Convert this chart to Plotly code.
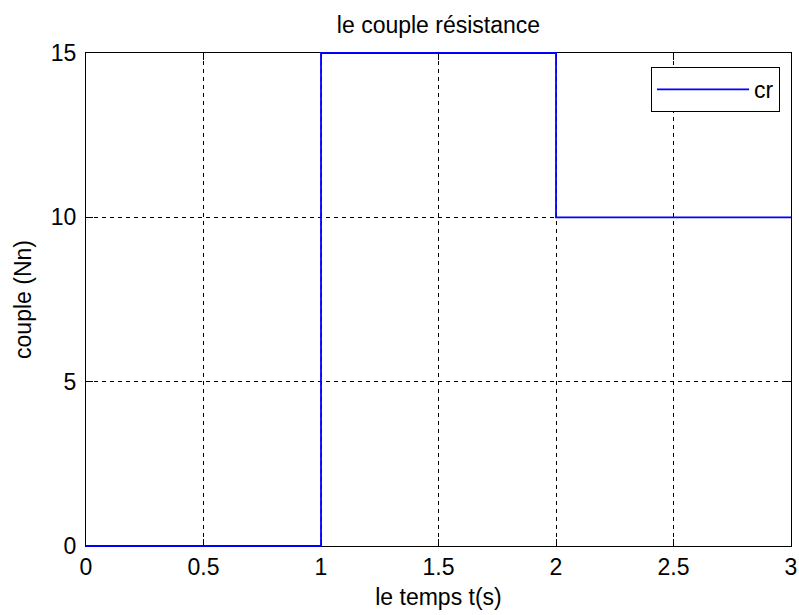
import plotly.graph_objects as go

# Data
t = [0, 1, 1, 2, 2, 3]
cr = [0, 0, 15, 15, 10, 10]
x_range = [0, 3]
y_range = [0, 15]
x_ticks = [0, 0.5, 1, 1.5, 2, 2.5, 3]
x_ticktext = ["0", "0.5", "1", "1.5", "2", "2.5", "3"]
y_ticks = [0, 5, 10, 15]
y_ticktext = ["0", "5", "10", "15"]

FONT = "Liberation Sans, Arial, sans-serif"
FS = 23

# Plot-area geometry (pixels)
W, H = 799, 615
L, R, T, B = 86, 8, 53, 69
PAD = 4  # extra room so the line is not clipped at the frame
pw = W - L - R
ph = H - T - B
tw = pw + 2 * PAD
th = ph + 2 * PAD
dx = (x_range[1] - x_range[0]) / pw * PAD
dy = (y_range[1] - y_range[0]) / ph * PAD

fig = go.Figure()
# carrier trace for the framed axes (invisible)
fig.add_trace(go.Scatter(
    x=t, y=cr, mode="lines", line=dict(width=0, color="rgba(0,0,0,0)"),
    showlegend=False, hoverinfo="skip", xaxis="x", yaxis="y",
))
# visible signal, drawn on an unclipped overlay of the same scale
fig.add_trace(go.Scatter(
    x=t, y=cr, mode="lines", name="cr",
    line=dict(color="#0000ff", width=1.8),
    xaxis="x2", yaxis="y2",
))

axis_common = dict(
    showline=True, linecolor="black", linewidth=1,
    mirror="ticks", ticks="inside", ticklen=7, tickcolor="black",
    showgrid=True, gridcolor="black", gridwidth=1, griddash="4px,4px",
    zeroline=False, automargin=False,
    tickfont=dict(family=FONT, size=FS, color="black"),
)

fig.update_layout(
    width=W, height=H,
    margin=dict(l=L - PAD, r=R - PAD, t=T - PAD, b=B - PAD, autoexpand=False),
    paper_bgcolor="white", plot_bgcolor="rgba(0,0,0,0)",
    font=dict(family=FONT, size=FS, color="black"),
    xaxis=dict(
        range=x_range, tickvals=x_ticks, ticktext=x_ticktext,
        domain=[PAD / tw, 1 - PAD / tw], anchor="y",
        title=dict(text="le temps t(s)", font=dict(family=FONT, size=FS, color="black"), standoff=10),
        **axis_common,
    ),
    yaxis=dict(
        range=y_range, tickvals=y_ticks, ticktext=y_ticktext,
        domain=[PAD / th, 1 - PAD / th], anchor="x",
        ticklabelstandoff=4,
        title=dict(text="couple (Nn)", font=dict(family=FONT, size=FS, color="black"), standoff=12),
        **axis_common,
    ),
    xaxis2=dict(range=[x_range[0] - dx, x_range[1] + dx], domain=[0, 1],
                visible=False, anchor="y2", fixedrange=True, automargin=False),
    yaxis2=dict(range=[y_range[0] - dy, y_range[1] + dy], domain=[0, 1],
                visible=False, anchor="x2", fixedrange=True, automargin=False),
    title=dict(text="le couple résistance", x=(L + pw / 2) / W, xanchor="center",
               y=1 - 25 / H, yanchor="middle", yref="container",
               font=dict(family=FONT, size=FS, color="black")),
    showlegend=True,
    legend=dict(x=(780 - (L - PAD)) / tw, y=1 - (67 - (T - PAD)) / th,
                xanchor="right", yanchor="top",
                bgcolor="white", bordercolor="black", borderwidth=1,
                itemwidth=92, font=dict(family=FONT, size=FS, color="black")),
)

fig.write_html("out.html")
